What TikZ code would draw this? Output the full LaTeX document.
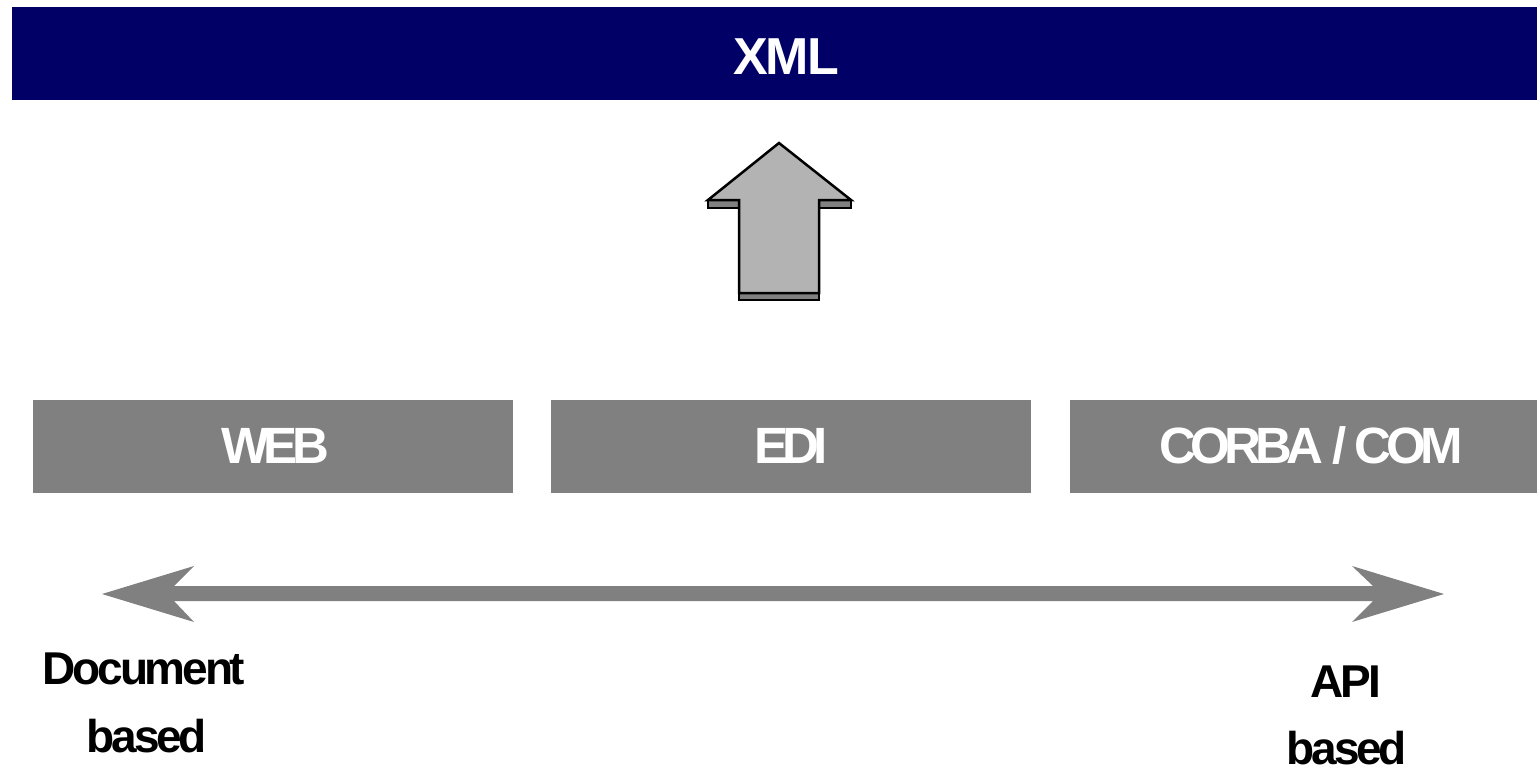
\documentclass[tikz,border=0pt]{standalone}
\usepackage{fontspec}
\setmainfont{Liberation Sans}
\definecolor{barnavy}{HTML}{000066}
\definecolor{boxgray}{HTML}{808080}
\definecolor{arrowlight}{HTML}{B3B3B3}
\begin{document}
\begin{tikzpicture}[x=1pt,y=-1pt,
  bar/.style={fill=barnavy,draw=none,inner sep=0pt},
  layer/.style={fill=boxgray,draw=none,inner sep=0pt},
  bartext/.style={text=white,font=\fontsize{52}{52}\selectfont\bfseries\addfontfeature{LetterSpace=-4},anchor=base,inner sep=0pt},
  layertext/.style={text=white,font=\fontsize{51}{51}\selectfont\bfseries\addfontfeature{LetterSpace=-11},anchor=base,inner sep=0pt},
  endtext/.style={text=black,font=\fontsize{46}{46}\selectfont\bfseries\addfontfeature{LetterSpace=-7},anchor=base,inner sep=0pt},
  facefill/.style={fill=arrowlight,draw=black,line width=2.5pt,line join=miter},
  sidefill/.style={fill=boxgray,draw=black,line width=2.5pt,line join=miter}]
\useasboundingbox (0,0) rectangle (1537,771);

% top band
\path[bar] (12,7) rectangle (1537,100);
\node[bartext] (xml) at (786,74) {XML};

% block arrow pointing up, with its thickness shown as dark bands
\path[sidefill] (708,200) rectangle (739,208);
\path[sidefill] (819,200) rectangle (851,208);
\path[sidefill] (739,293) rectangle (819,300);
\path[facefill] (779,143) -- (851,200) -- (819,200) -- (819,293)
  -- (739,293) -- (739,200) -- (708,200) -- cycle;

% the three technology layers
\path[layer] (33,400) rectangle (513,493);
\path[layer] (551,400) rectangle (1031,493);
\path[layer] (1070,400) rectangle (1537,493);
\node[layertext] (web) at (275,463) {WEB};
\node[layertext] (edi) at (791,463) {EDI};
\node[layertext] (corba) at (1311,463) {CORBA / COM};

% double-headed spectrum arrow
\path[fill=boxgray] (102,594) -- (194,566) -- (174,586) -- (1373,586)
  -- (1352,566) -- (1444,594) -- (1352,622) -- (1373,601)
  -- (174,601) -- (194,622) -- cycle;

% ends of the spectrum
\node[endtext] (doc1) at (144,684) {Document};
\node[endtext] (doc2) at (147,752) {based};
\node[endtext] (api1) at (1346,697) {API};
\node[endtext] (api2) at (1347,764) {based};
\end{tikzpicture}
\end{document}
